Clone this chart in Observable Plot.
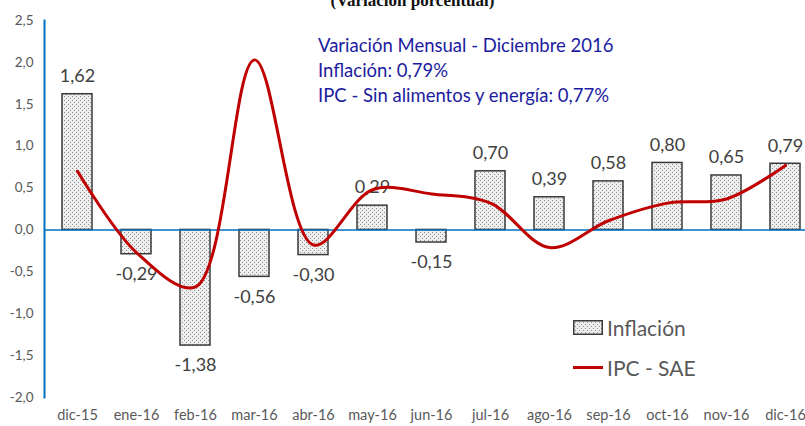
<!DOCTYPE html>
<html>
<head>
<meta charset="utf-8">
<script src="https://cdn.jsdelivr.net/npm/d3@7"></script>
<script src="https://cdn.jsdelivr.net/npm/@observablehq/plot@0.6"></script>
<style>
  html, body { margin: 0; padding: 0; background: #fff; overflow: hidden; width: 805px; height: 426px; }
  #wrap { position: relative; width: 805px; height: 426px; overflow: hidden; font-family: Lato, "Open Sans", sans-serif; }
  #chart svg { max-width: none !important; display: block; }
  #title { position: absolute; top: -9px; left: 0; width: 825px; text-align: center; font-family: "Liberation Serif", "Times New Roman", serif; font-weight: bold; font-size: 17px; color: #111; }
  #note { position: absolute; left: 318px; top: 33px; color: #1c1ca0; font-size: 18.5px; line-height: 25px; white-space: nowrap; }
  #legend { position: absolute; left: 573px; top: 307px; color: #595959; font-size: 21px; }
  .li { display: flex; align-items: center; height: 40px; }
  .sw { width: 30px; height: 15px; margin-right: 4px; }
</style>
</head>
<body>
<div id="wrap">
  <div id="chart"></div>
  <div id="title">(Variación porcentual)</div>
  <div id="note"></div>
  <div id="legend"></div>
</div>
<script>
const months = ["dic-15","ene-16","feb-16","mar-16","abr-16","may-16","jun-16","jul-16","ago-16","sep-16","oct-16","nov-16","dic-16"];
const inflacion = [1.62, -0.29, -1.38, -0.56, -0.30, 0.29, -0.15, 0.70, 0.39, 0.58, 0.80, 0.65, 0.79];
const ipcSae = [0.70, -0.27, -0.68, 2.03, -0.18, 0.48, 0.43, 0.32, -0.21, 0.11, 0.32, 0.37, 0.77];
const yTicks = [-2, -1.5, -1, -0.5, 0, 0.5, 1, 1.5, 2, 2.5];
const noteLines = ["Variación Mensual - Diciembre 2016", "Inflación: 0,79%", "IPC - Sin alimentos y energía: 0,77%"];
const seriesNames = ["Inflación", "IPC - SAE"];

const data = months.map((m, i) => ({month: m, infl: inflacion[i], sae: ipcSae[i]}));
const fmt = v => v.toFixed(2).replace(".", ",");
const fmt1 = v => v.toFixed(1).replace(".", ",");

const chart = Plot.plot({
  width: 818,
  height: 426,
  marginTop: 20,
  marginBottom: 29,
  marginLeft: 44,
  marginRight: 0,
  style: {fontFamily: "Lato, 'Open Sans', sans-serif", background: "transparent", maxWidth: "none"},
  x: {domain: months, paddingInner: 0.5, paddingOuter: 0.25, label: null},
  y: {domain: [-2, 2.5], label: null},
  marks: [
    Plot.barY(data, {x: "month", y: "infl", fill: "url(#dots)", stroke: "#3a3a3a", strokeWidth: 1.5}),
    Plot.ruleY([0], {stroke: "#0070C0", strokeWidth: 1.5}),
    Plot.frame({anchor: "left", stroke: "#0070C0", strokeWidth: 2}),
    Plot.text(data, {x: "month", y: "infl", text: d => fmt(d.infl), fontSize: 18, fill: "#404040",
      filter: d => d.infl >= 0, dy: -18}),
    Plot.text(data, {x: "month", y: "infl", text: d => fmt(d.infl), fontSize: 18, fill: "#404040",
      filter: d => d.infl < 0, dy: 20}),
    Plot.line(data, {x: "month", y: "sae", stroke: "#C00000", strokeWidth: 3, curve: "catmull-rom"}),
    Plot.axisY({ticks: yTicks, tickSize: 0, tickPadding: 11, tickFormat: fmt1, fontSize: 13.5, fill: "#595959"}),
    Plot.axisX({tickSize: 0, tickPadding: 12, fontSize: 14.5, fill: "#595959"})
  ]
});

const defs = d3.select(chart).insert("defs", ":first-child");
const pat = defs.append("pattern").attr("id", "dots").attr("patternUnits", "userSpaceOnUse").attr("width", 4).attr("height", 4);
pat.append("rect").attr("width", 4).attr("height", 4).attr("fill", "#eeeeee");
pat.append("rect").attr("x", 0).attr("y", 0).attr("width", 1).attr("height", 1).attr("fill", "#909090");
pat.append("rect").attr("x", 2).attr("y", 2).attr("width", 1).attr("height", 1).attr("fill", "#909090");
chart.style.maxWidth = "none";
chart.style.display = "block";
document.getElementById("chart").appendChild(chart);

document.getElementById("note").innerHTML = noteLines.map(s => `<div>${s}</div>`).join("");

const lg = document.getElementById("legend");
lg.innerHTML = `
  <div class="li"><svg class="sw" width="30" height="15"><defs><pattern id="dots2" patternUnits="userSpaceOnUse" width="4" height="4"><rect width="4" height="4" fill="#eeeeee"/><rect width="1" height="1" fill="#909090"/><rect x="2" y="2" width="1" height="1" fill="#909090"/></pattern></defs><rect x="0.75" y="0.75" width="28.5" height="13.5" fill="url(#dots2)" stroke="#3a3a3a" stroke-width="1.5"/></svg><span>${seriesNames[0]}</span></div>
  <div class="li"><svg class="sw" width="30" height="15"><line x1="0" x2="30" y1="7.5" y2="7.5" stroke="#C00000" stroke-width="3"/></svg><span>${seriesNames[1]}</span></div>`;
</script>
</body>
</html>
